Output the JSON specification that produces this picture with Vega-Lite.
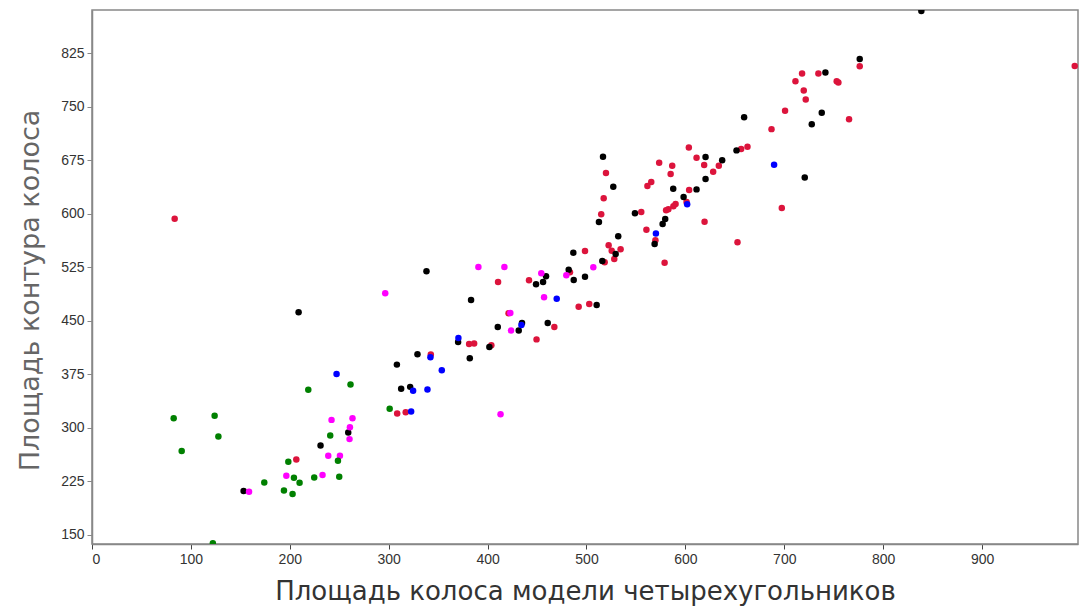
{
  "$schema": "https://vega.github.io/schema/vega-lite/v6.json",
  "autosize": {"type": "none"},
  "padding": {"left": 92, "top": 10, "right": 2, "bottom": 64},
  "width": 986,
  "height": 534,
  "background": "white",
  "config": {
    "view": {"stroke": "#888888", "strokeWidth": 1.5},
    "axis": {"labelFont": "Liberation Sans", "titleFont": "DejaVu Sans", "grid": false}
  },
  "data": {"values": [
    {"x":83.6,"y":593.2,"g":"red"},{"x":206.6,"y":255.5,"g":"red"},{"x":410.6,"y":504.5,"g":"red"},{"x":421.2,"y":460.7,"g":"red"},
    {"x":381.3,"y":417.6,"g":"red"},{"x":386.4,"y":418.1,"g":"red"},{"x":403.8,"y":415.8,"g":"red"},{"x":342.6,"y":402.7,"g":"red"},
    {"x":308.6,"y":320.0,"g":"red"},{"x":317.2,"y":321.7,"g":"red"},{"x":603.5,"y":693.0,"g":"red"},{"x":611.3,"y":678.7,"g":"red"},
    {"x":573.5,"y":671.7,"g":"red"},{"x":586.7,"y":667.5,"g":"red"},{"x":585.1,"y":655.9,"g":"red"},{"x":519.7,"y":657.3,"g":"red"},
    {"x":565.5,"y":644.7,"g":"red"},{"x":561.6,"y":639.0,"g":"red"},{"x":603.8,"y":633.4,"g":"red"},{"x":601.2,"y":616.6,"g":"red"},
    {"x":517.4,"y":621.8,"g":"red"},{"x":514.9,"y":599.4,"g":"red"},{"x":555.4,"y":602.6,"g":"red"},{"x":590.1,"y":613.8,"g":"red"},
    {"x":587.9,"y":610.7,"g":"red"},{"x":582.8,"y":606.4,"g":"red"},{"x":580.5,"y":605.0,"g":"red"},{"x":560.6,"y":577.7,"g":"red"},
    {"x":569.7,"y":563.1,"g":"red"},{"x":579.0,"y":531.6,"g":"red"},{"x":522.4,"y":556.0,"g":"red"},{"x":534.5,"y":550.3,"g":"red"},
    {"x":525.5,"y":548.4,"g":"red"},{"x":528.1,"y":536.8,"g":"red"},{"x":518.4,"y":532.1,"g":"red"},{"x":498.5,"y":548.0,"g":"red"},
    {"x":483.3,"y":518.1,"g":"red"},{"x":441.9,"y":506.9,"g":"red"},{"x":492.1,"y":469.9,"g":"red"},{"x":502.8,"y":473.7,"g":"red"},
    {"x":467.5,"y":441.5,"g":"red"},{"x":449.5,"y":424.0,"g":"red"},{"x":776.3,"y":807.2,"g":"red"},{"x":993.7,"y":807.6,"g":"red"},
    {"x":734.5,"y":797.0,"g":"red"},{"x":718.0,"y":797.0,"g":"red"},{"x":711.3,"y":786.2,"g":"red"},{"x":753.0,"y":786.2,"g":"red"},
    {"x":754.7,"y":784.4,"g":"red"},{"x":719.7,"y":773.2,"g":"red"},{"x":721.7,"y":760.5,"g":"red"},{"x":700.8,"y":744.6,"g":"red"},
    {"x":765.5,"y":732.9,"g":"red"},{"x":687.1,"y":718.9,"g":"red"},{"x":633.8,"y":667.5,"g":"red"},{"x":628.1,"y":659.1,"g":"red"},
    {"x":656.4,"y":690.9,"g":"red"},{"x":662.8,"y":694.1,"g":"red"},{"x":619.0,"y":668.5,"g":"red"},{"x":697.5,"y":608.2,"g":"red"},
    {"x":619.4,"y":589.0,"g":"red"},{"x":652.7,"y":560.2,"g":"red"},
    {"x":153.3,"y":211.2,"g":"black"},{"x":259.1,"y":293.3,"g":"black"},{"x":231.1,"y":275.1,"g":"black"},{"x":208.9,"y":462.1,"g":"black"},
    {"x":338.2,"y":519.5,"g":"black"},{"x":383.3,"y":479.3,"g":"black"},{"x":410.3,"y":441.5,"g":"black"},{"x":370.2,"y":420.4,"g":"black"},
    {"x":401.8,"y":413.4,"g":"black"},{"x":329.1,"y":403.2,"g":"black"},{"x":308.3,"y":388.6,"g":"black"},{"x":382.0,"y":397.6,"g":"black"},
    {"x":312.6,"y":354.6,"g":"black"},{"x":321.7,"y":357.4,"g":"black"},{"x":516.7,"y":680.1,"g":"black"},{"x":527.1,"y":638.1,"g":"black"},
    {"x":587.7,"y":635.3,"g":"black"},{"x":611.3,"y":634.4,"g":"black"},{"x":598.2,"y":623.6,"g":"black"},{"x":512.6,"y":588.6,"g":"black"},
    {"x":549.0,"y":600.8,"g":"black"},{"x":579.6,"y":592.8,"g":"black"},{"x":577.0,"y":585.8,"g":"black"},{"x":568.9,"y":557.8,"g":"black"},
    {"x":532.1,"y":568.6,"g":"black"},{"x":529.5,"y":543.8,"g":"black"},{"x":516.0,"y":534.0,"g":"black"},{"x":486.7,"y":545.6,"g":"black"},
    {"x":482.0,"y":521.8,"g":"black"},{"x":459.1,"y":512.5,"g":"black"},{"x":456.1,"y":504.5,"g":"black"},{"x":449.0,"y":501.3,"g":"black"},
    {"x":487.1,"y":507.3,"g":"black"},{"x":498.5,"y":512.0,"g":"black"},{"x":510.3,"y":472.3,"g":"black"},{"x":434.8,"y":447.1,"g":"black"},
    {"x":431.5,"y":436.3,"g":"black"},{"x":460.8,"y":447.1,"g":"black"},{"x":838.6,"y":884.7,"g":"black"},{"x":776.3,"y":817.4,"g":"black"},
    {"x":741.6,"y":798.4,"g":"black"},{"x":659.4,"y":735.7,"g":"black"},{"x":737.9,"y":741.8,"g":"black"},{"x":727.8,"y":725.9,"g":"black"},
    {"x":620.4,"y":679.7,"g":"black"},{"x":637.2,"y":675.1,"g":"black"},{"x":651.7,"y":689.1,"g":"black"},{"x":620.4,"y":648.9,"g":"black"},
    {"x":720.7,"y":651.2,"g":"black"},
    {"x":247.3,"y":375.6,"g":"blue"},{"x":370.5,"y":426.1,"g":"blue"},{"x":342.2,"y":399.0,"g":"blue"},{"x":353.7,"y":380.8,"g":"blue"},
    {"x":324.7,"y":351.8,"g":"blue"},{"x":339.2,"y":353.6,"g":"blue"},{"x":322.7,"y":322.8,"g":"blue"},{"x":601.8,"y":613.5,"g":"blue"},
    {"x":570.2,"y":572.5,"g":"blue"},{"x":469.9,"y":481.1,"g":"blue"},{"x":434.2,"y":444.3,"g":"blue"},{"x":689.7,"y":668.9,"g":"blue"},
    {"x":242.2,"y":311.1,"g":"magenta"},{"x":263.4,"y":313.5,"g":"magenta"},{"x":260.8,"y":300.9,"g":"magenta"},{"x":260.4,"y":284.1,"g":"magenta"},
    {"x":238.9,"y":260.7,"g":"magenta"},{"x":250.7,"y":260.7,"g":"magenta"},{"x":196.5,"y":232.7,"g":"magenta"},{"x":233.1,"y":233.7,"g":"magenta"},
    {"x":158.8,"y":210.3,"g":"magenta"},{"x":296.5,"y":488.7,"g":"magenta"},{"x":390.7,"y":525.5,"g":"magenta"},{"x":417.0,"y":525.5,"g":"magenta"},
    {"x":423.0,"y":461.1,"g":"magenta"},{"x":423.7,"y":436.4,"g":"magenta"},{"x":413.1,"y":319.1,"g":"magenta"},{"x":506.9,"y":525.1,"g":"magenta"},
    {"x":479.6,"y":513.9,"g":"magenta"},{"x":454.3,"y":516.7,"g":"magenta"},{"x":457.1,"y":483.1,"g":"magenta"},
    {"x":82.6,"y":313.5,"g":"green"},{"x":124.0,"y":316.8,"g":"green"},{"x":127.8,"y":287.7,"g":"green"},{"x":90.7,"y":267.3,"g":"green"},
    {"x":218.7,"y":353.2,"g":"green"},{"x":261.4,"y":360.6,"g":"green"},{"x":240.9,"y":289.2,"g":"green"},{"x":198.5,"y":252.3,"g":"green"},
    {"x":248.7,"y":253.7,"g":"green"},{"x":204.2,"y":229.9,"g":"green"},{"x":209.9,"y":222.9,"g":"green"},{"x":224.7,"y":230.3,"g":"green"},
    {"x":250.0,"y":231.3,"g":"green"},{"x":174.2,"y":223.3,"g":"green"},{"x":194.1,"y":212.1,"g":"green"},{"x":202.8,"y":207.0,"g":"green"},
    {"x":122.2,"y":138.1,"g":"green"},{"x":301.0,"y":326.6,"g":"green"}
  ]},
  "mark": {"type": "point", "filled": true, "opacity": 1, "size": 42, "clip": true},
  "encoding": {
    "x": {
      "field": "x", "type": "quantitative",
      "scale": {"domain": [0, 997], "nice": false, "zero": false},
      "axis": {
        "title": "Площадь колоса модели четырехугольников",
        "values": [0,100,200,300,400,500,600,700,800,900],
        "format": "d",
        "labelFontSize": 14, "labelColor": "#333333", "labelPadding": 3,
        "domainColor": "#888888", "domainWidth": 1.5,
        "tickColor": "#444444", "tickSize": 5,
        "titleFontSize": 26, "titleFontWeight": "normal", "titleColor": "#333333",
        "titlePadding": 12
      }
    },
    "y": {
      "field": "y", "type": "quantitative",
      "scale": {"domain": [137, 886], "nice": false, "zero": false},
      "axis": {
        "title": "Площадь контура колоса",
        "values": [150,225,300,375,450,525,600,675,750,825],
        "format": "d",
        "labelFontSize": 14, "labelColor": "#333333", "labelPadding": 3,
        "domainColor": "#888888", "domainWidth": 1.5,
        "tickColor": "#888888", "tickSize": 5,
        "titleFontSize": 27, "titleFontWeight": "normal", "titleColor": "#666666",
        "titlePadding": 16, "titleY": 280
      }
    },
    "color": {
      "field": "g", "type": "nominal",
      "scale": {"domain": ["red","black","blue","magenta","green"], "range": ["#DC143C","#000000","#0000FF","#FF00FF","#008000"]},
      "legend": null
    }
  }
}
